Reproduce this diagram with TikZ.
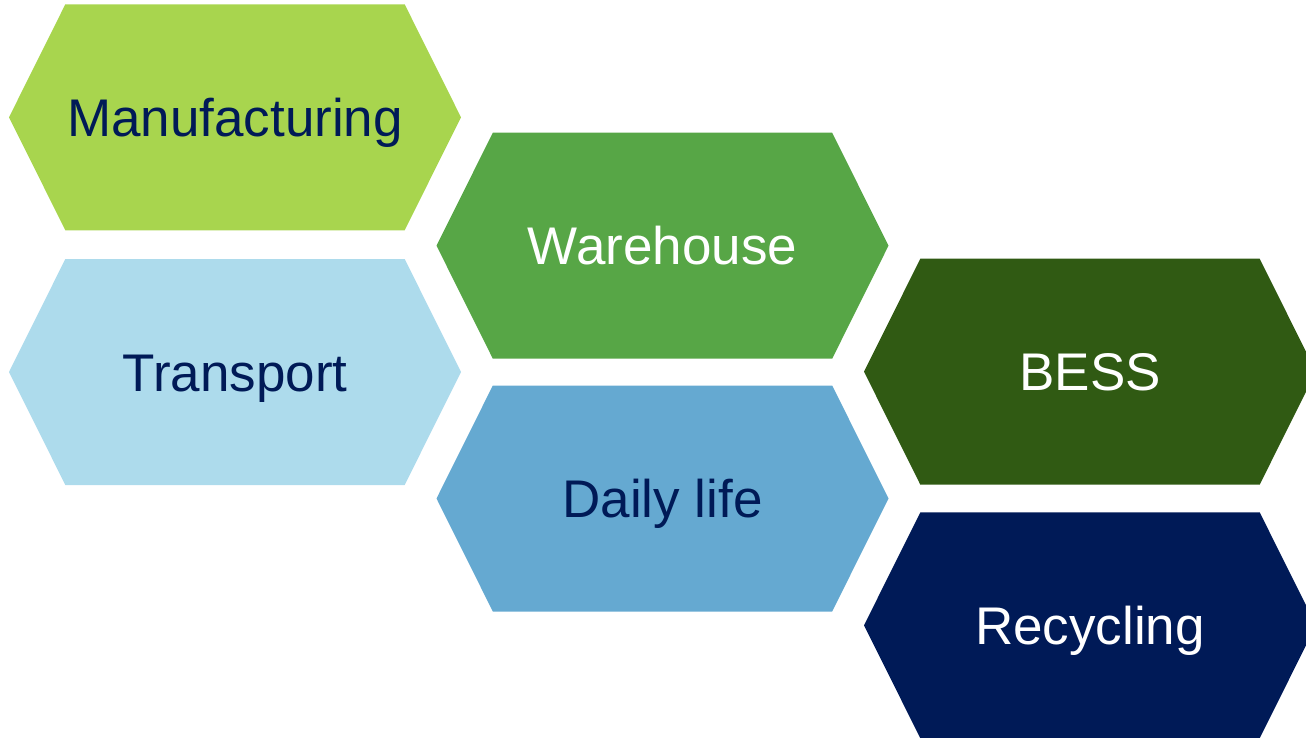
\documentclass[tikz,border=0pt]{standalone}
\usepackage{fontspec}
\setmainfont{Liberation Sans}
\usepackage{xcolor}
\usepackage{tikz}
\usetikzlibrary{shapes.symbols}

\definecolor{lightlime}{HTML}{A8D54E}
\definecolor{midgreen}{HTML}{57A646}
\definecolor{darkgreen}{HTML}{305A13}
\definecolor{paleblue}{HTML}{ADDBEC}
\definecolor{midblue}{HTML}{65A9D1}
\definecolor{navy}{HTML}{001A57}

\begin{document}
\begin{tikzpicture}[x=0.5pt,y=-0.5pt,
	hexa/.style={shape=signal, signal to=west and east, signal pointer angle=127, draw=none, minimum width=226pt, minimum height=113pt, inner sep=0pt, outer sep=0pt, text height=19pt, text depth=0pt, font=\fontsize{26.5}{30}\selectfont}]
			\clip (0,0) rectangle (1306,738);
			%% left column
			\node[hexa, fill=lightlime, text=navy] (manuf) at (235,117.3) {Manufacturing};
			\node[hexa, fill=paleblue, text=navy] (transp) at (235,372) {Transport};
			%% middle column
			\node[hexa, fill=midgreen, text=white] (wareh) at (662.5,245.7) {Warehouse};
			\node[hexa, fill=midblue, text=navy] (daily) at (662.5,498.5) {Daily life};
			%% right column
			\node[hexa, fill=darkgreen, text=white] (bess) at (1090,371.7) {BESS};
			\node[hexa, fill=navy, text=white] (recyc) at (1090,625.3) {Recycling};
		\end{tikzpicture}
\end{document}
